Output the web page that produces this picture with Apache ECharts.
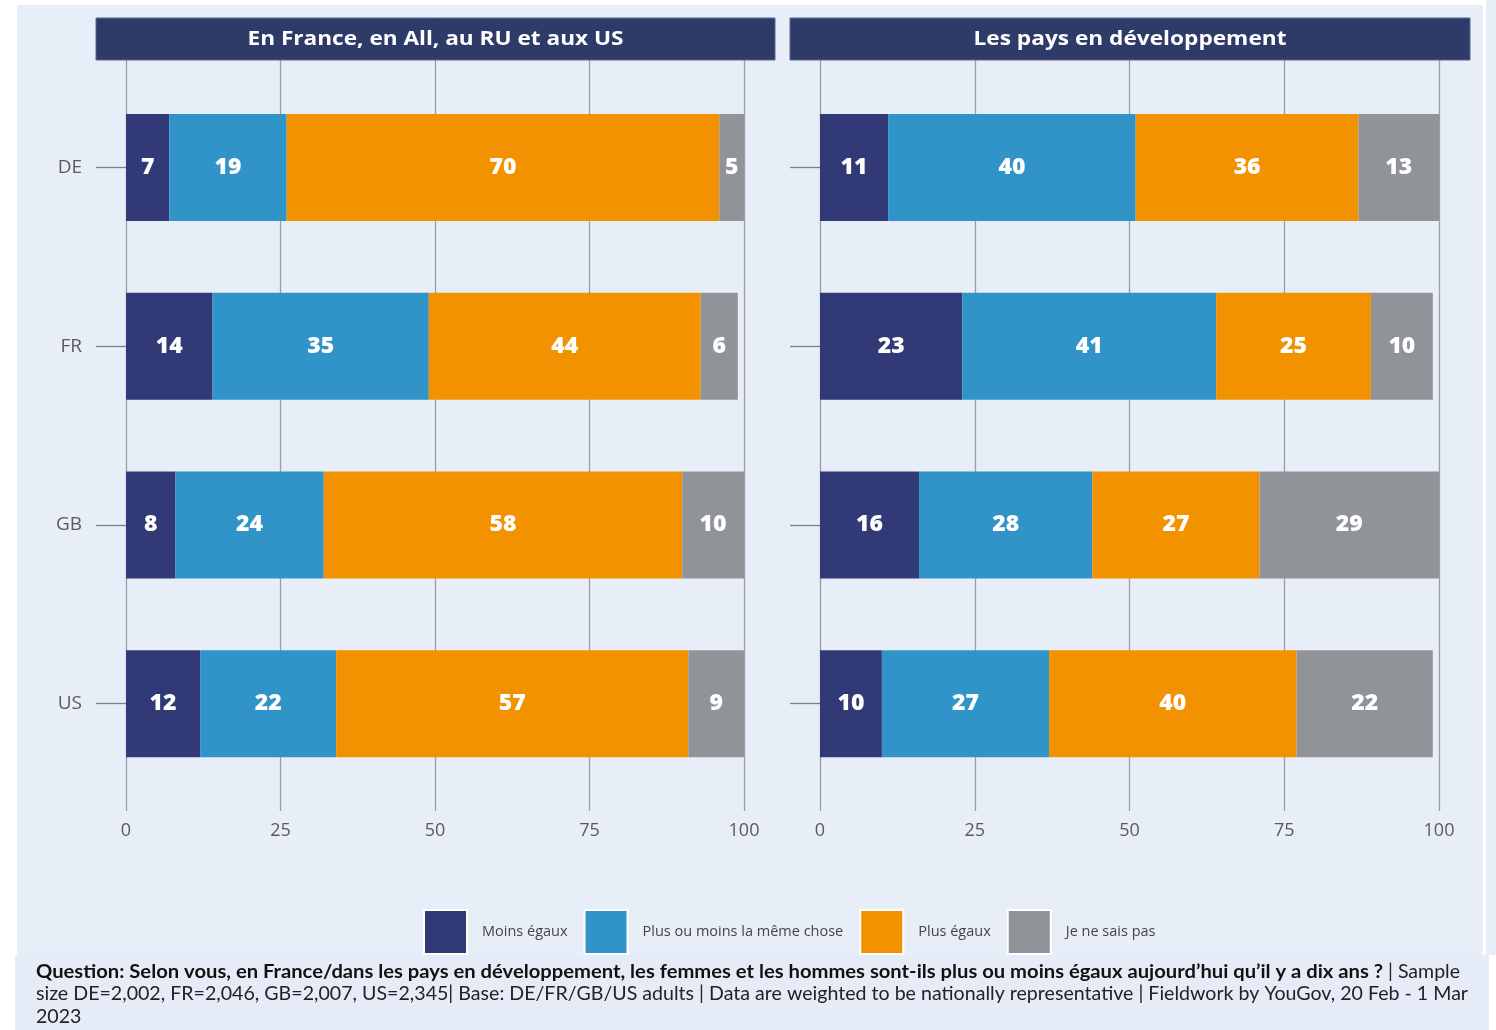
<!DOCTYPE html>
<html>
<head>
<meta charset="utf-8">
<style>
  html, body { margin: 0; padding: 0; background: #ffffff; }
  #chart { width: 1496px; height: 1030px; }
</style>
<script src="https://cdn.jsdelivr.net/npm/echarts@6/dist/echarts.min.js"></script>
</head>
<body>
<div id="chart"></div>
<script>
// Countries shown on both panels
const countries = ['DE', 'FR', 'GB', 'US'];
const xTicks = [0, 25, 50, 75, 100];

// Panel titles
const panelTitles = ['En France, en All, au RU et aux US', 'Les pays en développement'];

// Answer categories (stack order, left to right)
const answers = ['Moins égaux', 'Plus ou moins la même chose', 'Plus égaux', 'Je ne sais pas'];
const answerColors = ['#313a77', '#3194c8', '#f39200', '#909498'];

// Panel 1: situation in France / Germany / UK / US (%)
const homeMoins = [7, 14, 8, 12];
const homeMeme = [19, 35, 24, 22];
const homePlus = [70, 44, 58, 57];
const homeNsp = [5, 6, 10, 9];

// Panel 2: situation in developing countries (%)
const devMoins = [11, 23, 16, 10];
const devMeme = [40, 41, 28, 27];
const devPlus = [36, 25, 27, 40];
const devNsp = [13, 10, 29, 22];

const homeSeries = [homeMoins, homeMeme, homePlus, homeNsp];
const devSeries = [devMoins, devMeme, devPlus, devNsp];

const footerBold = 'Question: Selon vous, en France/dans les pays en développement, les femmes et les hommes sont-ils plus ou moins égaux aujourd’hui qu’il y a dix ans ?';
const footerRest = '| Sample';
const footerLine2 = 'size DE=2,002, FR=2,046, GB=2,007, US=2,345| Base: DE/FR/GB/US adults | Data are weighted to be nationally representative | Fieldwork by YouGov, 20 Feb - 1 Mar';
const footerLine3 = '2023';

const FONT = '"Open Sans", "Noto Sans", sans-serif';
const FOOT_FONT = 'Lato, "Open Sans", sans-serif';
const gridLine = '#9a9da3';

// horizontal squeeze factor so a text run spans a given width
const measureCtx = document.createElement('canvas').getContext('2d');
function textWidth(text, font) {
  measureCtx.font = font;
  return measureCtx.measureText(text).width;
}

const grids = [
  { left: 126, width: 618, top: 78, height: 715 },
  { left: 820, width: 619, top: 78, height: 715 }
];

const xAxes = [];
const yAxes = [];
grids.forEach((g, i) => {
  // bottom value axis with tick labels
  xAxes.push({
    type: 'value', gridIndex: i, min: 0, max: 100, interval: 25, position: 'bottom',
    axisLine: { show: false },
    axisTick: { show: true, length: 18, lineStyle: { color: gridLine, width: 1.3 } },
    axisLabel: { margin: 29, fontFamily: FONT, fontSize: 18, color: '#5a5a5a' },
    splitLine: { show: true, lineStyle: { color: gridLine, width: 1.3 } }
  });
  // top value axis: extends the grid lines up to the panel header
  xAxes.push({
    type: 'value', gridIndex: i, min: 0, max: 100, interval: 25, position: 'top',
    axisLine: { show: false },
    axisTick: { show: true, length: 18, lineStyle: { color: gridLine, width: 1.3 } },
    axisLabel: { show: false },
    splitLine: { show: false }
  });
  // left category axis
  yAxes.push({
    type: 'category', gridIndex: i, data: countries, inverse: true, position: 'left',
    axisLine: { show: false },
    axisTick: { show: true, alignWithLabel: true, length: 30, lineStyle: { color: '#7d8086', width: 1.3 } },
    axisLabel: { show: i === 0, margin: 44, fontFamily: FONT, fontSize: 19, color: '#5a5a5a' }
  });
  // right category axis, ticks only
  yAxes.push({
    type: 'category', gridIndex: i, data: countries, inverse: true, position: 'right',
    axisLine: { show: false },
    axisTick: { show: true, alignWithLabel: true, length: 31, lineStyle: { color: '#7d8086', width: 1.3 } },
    axisLabel: { show: false }
  });
});

const series = [];
[homeSeries, devSeries].forEach((panel, p) => {
  panel.forEach((vals, k) => {
    series.push({
      name: answers[k],
      type: 'bar',
      stack: 'panel' + p,
      xAxisIndex: p * 2,
      yAxisIndex: p * 2,
      barWidth: 107,
      data: vals,
      itemStyle: { color: answerColors[k] },
      label: {
        show: true, position: 'inside', color: '#ffffff',
        fontFamily: FONT, fontWeight: 800, fontSize: 23
      },
      emphasis: { disabled: true }
    });
  });
});

const graphic = [
  { type: 'rect', z: -10, shape: { x: 17, y: 5, width: 1466, height: 950 }, style: { fill: '#e8eef8' } },
  { type: 'rect', z: -10, shape: { x: 1486, y: 0, width: 10, height: 955 }, style: { fill: '#e8eef8' } },
  { type: 'rect', z: -10, shape: { x: 15, y: 955, width: 1474, height: 75 }, style: { fill: '#e6ecf7' } }
];

// panel header bands
const headerBoxes = [[96, 679], [790, 680]];
const headerTextWidths = [376, 313];
const headerFont = 'bold 20px ' + FONT;
headerBoxes.forEach((b, i) => {
  graphic.push({
    type: 'rect', z: 10, shape: { x: b[0], y: 18, width: b[1], height: 42 },
    style: { fill: '#2e3a68', stroke: '#5d6790', lineWidth: 1 }
  });
  graphic.push({
    type: 'text', z: 11, x: b[0] + b[1] / 2, y: 39,
    scaleX: headerTextWidths[i] / textWidth(panelTitles[i], headerFont),
    style: {
      text: panelTitles[i], fill: '#ffffff', font: headerFont,
      align: 'center', verticalAlign: 'middle'
    }
  });
});

// footer note
const footBoldFont = 'bold 19px ' + FOOT_FONT;
const footFont = '19px ' + FOOT_FONT;
const boldScale = 1347 / textWidth(footerBold, footBoldFont);
graphic.push({
  type: 'text', z: 11, x: 36, y: 972, scaleX: boldScale,
  style: { text: footerBold, font: footBoldFont, fill: '#111111', verticalAlign: 'middle' }
});
graphic.push({
  type: 'text', z: 11, x: 1388, y: 972,
  scaleX: 72 / textWidth(footerRest, footFont),
  style: { text: footerRest, font: footFont, fill: '#222222', verticalAlign: 'middle' }
});
graphic.push({
  type: 'text', z: 11, x: 36, y: 994,
  scaleX: 1432 / textWidth(footerLine2, footFont),
  style: { text: footerLine2, font: footFont, fill: '#222222', verticalAlign: 'middle' }
});
graphic.push({
  type: 'text', z: 11, x: 36, y: 1017,
  scaleX: 1432 / textWidth(footerLine2, footFont),
  style: { text: footerLine3, font: footFont, fill: '#222222', verticalAlign: 'middle' }
});

const chart = echarts.init(document.getElementById('chart'), null, { renderer: 'canvas' });
chart.setOption({
  animation: false,
  backgroundColor: '#ffffff',
  grid: grids,
  xAxis: xAxes,
  yAxis: yAxes,
  series: series,
  legend: {
    data: answers,
    top: 904,
    left: 418,
    itemWidth: 43,
    itemHeight: 44,
    itemGap: 16,
    icon: 'rect',
    itemStyle: { borderColor: '#ffffff', borderWidth: 2 },
    textStyle: { fontFamily: FONT, fontSize: 14.5, color: '#444444', padding: [0, 0, 0, 10] },
    selectedMode: false
  },
  graphic: graphic
});
</script>
</body>
</html>
